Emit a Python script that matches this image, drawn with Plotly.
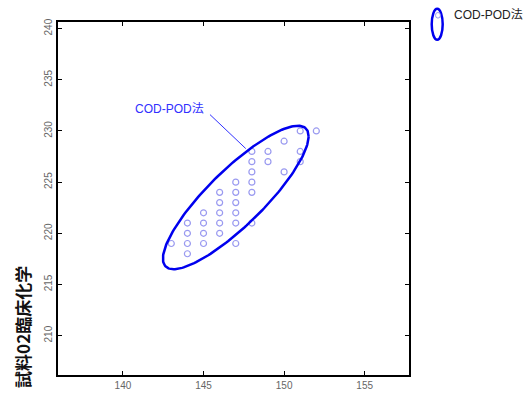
import numpy as np
import plotly.graph_objects as go

# data
x_vals = [152, 151, 150, 148, 149, 151, 148, 149, 151, 148, 150, 147, 148, 146, 147, 148,
          146, 147, 145, 146, 147, 144, 145, 146, 147, 148, 144, 145, 146, 143, 144, 145, 147, 144]
y_vals = [230, 230, 229, 228, 228, 228, 227, 227, 227, 226, 226, 225, 225, 224, 224, 224,
          223, 223, 222, 222, 222, 221, 221, 221, 221, 221, 220, 220, 220, 219, 219, 219, 219, 218]
series_name = "COD-POD法"
y_title = "試料02臨床化学"
x_ticks = [140, 145, 150, 155]
y_ticks = [210, 215, 220, 225, 230, 235, 240]

# ellipse parameters (center, spread matrix)
ell_cx, ell_cy = 147.0, 223.5
ell_mxx, ell_myy, ell_mxy = 20.43, 49.1, 27.0

t = np.linspace(0, 2 * np.pi, 200)
sx = np.sqrt(ell_mxx)
k = ell_mxy / sx
m = np.sqrt(ell_myy - k ** 2)
ex = ell_cx + sx * np.cos(t)
ey = ell_cy + k * np.cos(t) + m * np.sin(t)

tick_font = dict(family="Liberation Sans Narrow, Arial Narrow, Liberation Sans, sans-serif",
                 size=10, color="#666666")
text_font = "Liberation Sans, Arial, Noto Sans CJK JP, sans-serif"

fig = go.Figure()
fig.add_trace(go.Scatter(x=x_vals, y=y_vals, mode="markers",
                         marker=dict(symbol="circle-open", size=6, color="#9a9af0",
                                     line=dict(width=1.2, color="#9a9af0")),
                         showlegend=False, hoverinfo="skip"))
fig.add_trace(go.Scatter(x=ex, y=ey, mode="lines",
                         line=dict(color="#0000ee", width=2.5),
                         showlegend=False, hoverinfo="skip"))

# label with leader line
fig.add_shape(type="line", xref="x", yref="y", x0=145.4, y0=231.6, x1=147.62, y1=228.28,
              line=dict(color="#3030ff", width=1))
fig.add_annotation(x=142.87, y=232.14, xref="x", yref="y", text=series_name, showarrow=False,
                   font=dict(family=text_font, size=12, color="#3030ff"))

# custom legend
fig.add_shape(type="circle", xref="paper", yref="paper", x0=1.0647, x1=1.0960, y0=0.9496, y1=1.0375,
              line=dict(color="#0000ee", width=2.5))
fig.add_shape(type="circle", xref="paper", yref="paper", x0=1.0755, x1=1.0895, y0=1.011, y1=1.027,
              line=dict(color="#9a9af0", width=1))
fig.add_annotation(x=1.1216, y=1.019, xref="paper", yref="paper", xanchor="left", yanchor="middle",
                   text=series_name, showarrow=False,
                   font=dict(family=text_font, size=12, color="#222222"))

# y title
fig.add_annotation(x=-0.101, y=0.135, xref="paper", yref="paper", xanchor="center", yanchor="middle",
                   text="<b>" + y_title + "</b>",
                   textangle=-90, showarrow=False,
                   font=dict(family="Noto Sans CJK JP, sans-serif", size=17, color="#111111"))

axis_common = dict(showgrid=False, zeroline=False, showline=True, linecolor="black", linewidth=2,
                   mirror="ticks", ticks="inside", ticklen=4, tickcolor="black", tickwidth=1,
                   tickfont=tick_font)
fig.update_xaxes(range=[135.97, 157.75], tickvals=x_ticks, **axis_common)
fig.update_yaxes(range=[206.15, 240.65], tickvals=y_ticks, tickangle=-90, **axis_common)

fig.update_layout(width=532, height=403, margin=dict(l=58, r=123, t=22, b=16),
                  plot_bgcolor="white", paper_bgcolor="white")

fig.write_html("out.html")
